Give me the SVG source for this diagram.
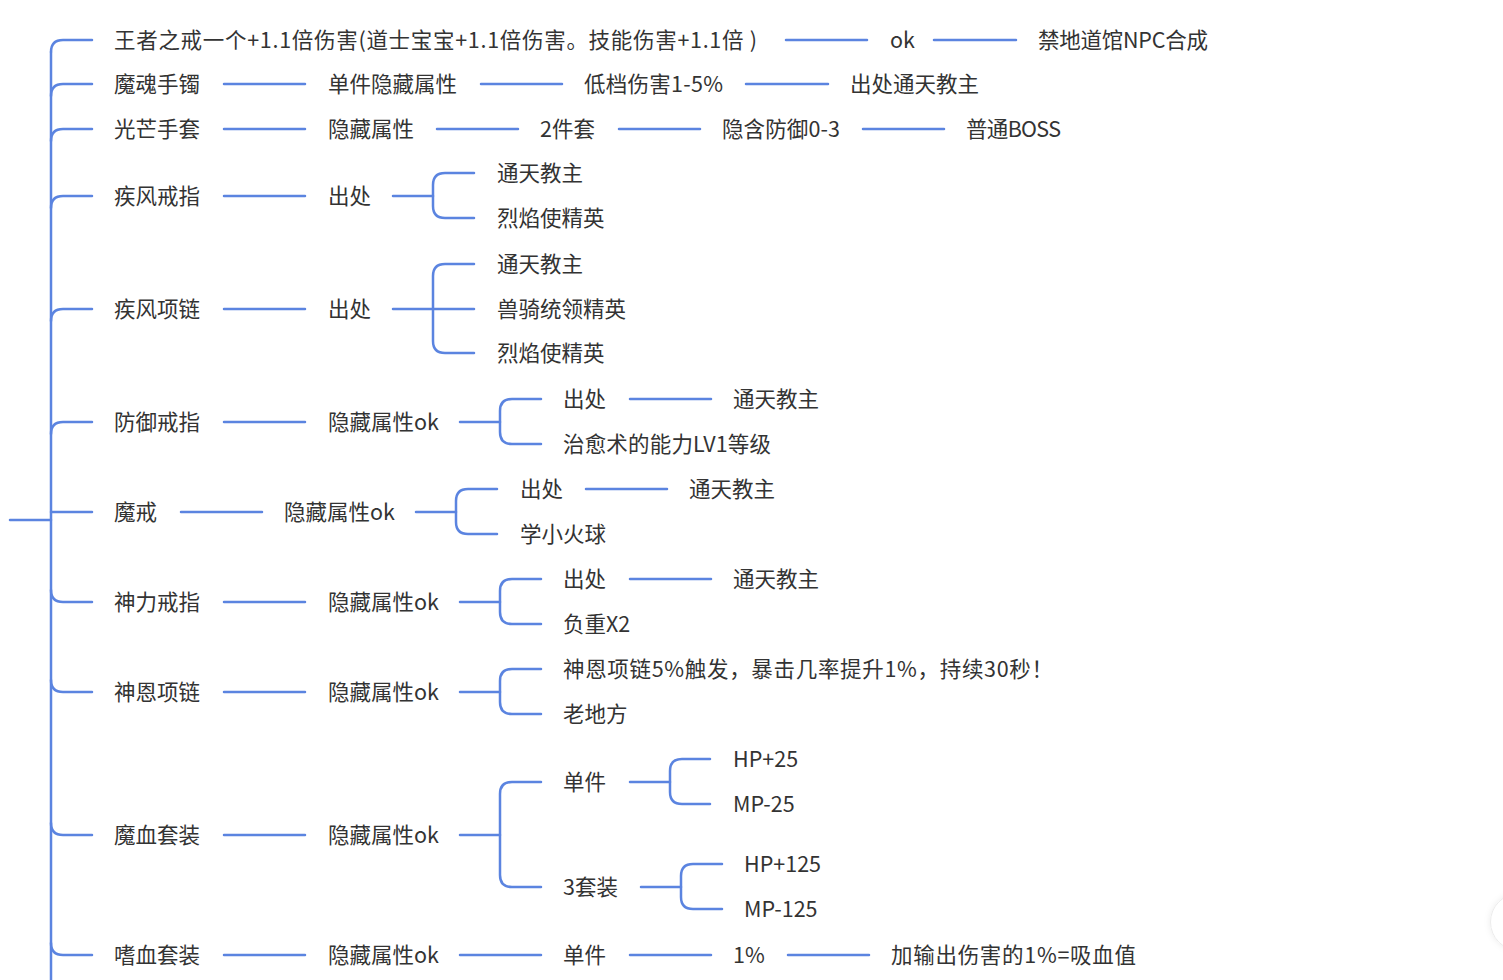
<svg xmlns="http://www.w3.org/2000/svg" width="1503" height="980" viewBox="0 0 1503 980">
<defs>
<style>
.t{font-family:"Noto Sans CJK SC","Microsoft YaHei",sans-serif;font-size:21.5px;fill:#333333}
.c path,.c line{stroke:#5b84e0;stroke-width:2.5;fill:none;stroke-linecap:round}
</style>
<filter id="sh" x="-50%" y="-50%" width="200%" height="200%"><feDropShadow dx="0" dy="0" stdDeviation="3" flood-color="#000" flood-opacity="0.08"/></filter>
</defs>
<rect width="1503" height="980" fill="#ffffff"/>
<g class="c" id="connectors">
<line x1="10" y1="520" x2="51" y2="520"/>
<line x1="51" y1="52" x2="51" y2="980"/>
<path d="M51,52 Q51,40 63,40 L92,40"/>
<path d="M51,96 Q51,84 63,84 L92,84"/>
<path d="M51,141 Q51,129 63,129 L92,129"/>
<path d="M51,208 Q51,196 63,196 L92,196"/>
<path d="M51,321 Q51,309 63,309 L92,309"/>
<path d="M51,434 Q51,422 63,422 L92,422"/>
<path d="M51,512 L92,512"/>
<path d="M51,590 Q51,602 63,602 L92,602"/>
<path d="M51,680 Q51,692 63,692 L92,692"/>
<path d="M51,823 Q51,835 63,835 L92,835"/>
<path d="M51,943 Q51,955 63,955 L92,955"/>
<line x1="786" y1="40" x2="867" y2="40"/>
<line x1="934" y1="40" x2="1016" y2="40"/>
<line x1="224" y1="84" x2="305" y2="84"/>
<line x1="481" y1="84" x2="562" y2="84"/>
<line x1="746" y1="84" x2="828" y2="84"/>
<line x1="224" y1="129" x2="305" y2="129"/>
<line x1="437" y1="129" x2="518" y2="129"/>
<line x1="619" y1="129" x2="700" y2="129"/>
<line x1="863" y1="129" x2="944" y2="129"/>
<line x1="224" y1="196" x2="305" y2="196"/>
<line x1="393" y1="196" x2="433" y2="196"/>
<path d="M474,173 L445,173 Q433,173 433,185 L433,206 Q433,218 445,218 L474,218"/>
<line x1="224" y1="309" x2="305" y2="309"/>
<line x1="393" y1="309" x2="474" y2="309"/>
<path d="M474,264 L445,264 Q433,264 433,276 L433,341 Q433,353 445,353 L474,353"/>
<line x1="224" y1="422" x2="305" y2="422"/>
<line x1="460" y1="422" x2="500" y2="422"/>
<path d="M541,399 L512,399 Q500,399 500,411 L500,432 Q500,444 512,444 L541,444"/>
<line x1="630" y1="399" x2="711" y2="399"/>
<line x1="181" y1="512" x2="262" y2="512"/>
<line x1="416" y1="512" x2="456" y2="512"/>
<path d="M497,489 L468,489 Q456,489 456,501 L456,522 Q456,534 468,534 L497,534"/>
<line x1="586" y1="489" x2="667" y2="489"/>
<line x1="224" y1="602" x2="305" y2="602"/>
<line x1="460" y1="602" x2="500" y2="602"/>
<path d="M541,579 L512,579 Q500,579 500,591 L500,612 Q500,624 512,624 L541,624"/>
<line x1="630" y1="579" x2="711" y2="579"/>
<line x1="224" y1="692" x2="305" y2="692"/>
<line x1="460" y1="692" x2="500" y2="692"/>
<path d="M541,669 L512,669 Q500,669 500,681 L500,702 Q500,714 512,714 L541,714"/>
<line x1="224" y1="835" x2="305" y2="835"/>
<line x1="460" y1="835" x2="500" y2="835"/>
<path d="M541,782 L512,782 Q500,782 500,794 L500,875 Q500,887 512,887 L541,887"/>
<line x1="630" y1="782" x2="670" y2="782"/>
<path d="M710,759 L682,759 Q670,759 670,771 L670,792 Q670,804 682,804 L710,804"/>
<line x1="641" y1="887" x2="681" y2="887"/>
<path d="M722,864 L693,864 Q681,864 681,876 L681,897 Q681,909 693,909 L722,909"/>
<line x1="224" y1="955" x2="305" y2="955"/>
<line x1="460" y1="955" x2="541" y2="955"/>
<line x1="630" y1="955" x2="711" y2="955"/>
<line x1="788" y1="955" x2="869" y2="955"/>
</g>
<g id="n1" class="t"><text x="114" y="47.5" textLength="643" lengthAdjust="spacing">王者之戒一个+1.1倍伤害(道士宝宝+1.1倍伤害。技能伤害+1.1倍 )</text><text x="890" y="47.5">ok</text><text x="1038" y="47.5" textLength="170" lengthAdjust="spacing">禁地道馆NPC合成</text></g>
<g id="n2" class="t"><text x="114" y="91.5">魔魂手镯</text><text x="328" y="91.5">单件隐藏属性</text><text x="584" y="91.5" textLength="139" lengthAdjust="spacing">低档伤害1-5%</text><text x="850" y="91.5">出处通天教主</text></g>
<g id="n3" class="t"><text x="114" y="136.5">光芒手套</text><text x="328" y="136.5">隐藏属性</text><text x="540" y="136.5">2件套</text><text x="722" y="136.5" textLength="118" lengthAdjust="spacing">隐含防御0-3</text><text x="966" y="136.5" textLength="95" lengthAdjust="spacing">普通BOSS</text></g>
<g id="n4" class="t"><text x="114" y="203.5">疾风戒指</text><text x="328" y="203.5">出处</text><text x="497" y="180.5">通天教主</text><text x="497" y="225.5">烈焰使精英</text></g>
<g id="n5" class="t"><text x="114" y="316.5">疾风项链</text><text x="328" y="316.5">出处</text><text x="497" y="271.5">通天教主</text><text x="497" y="316.5">兽骑统领精英</text><text x="497" y="360.5">烈焰使精英</text></g>
<g id="n6" class="t"><text x="114" y="429.5">防御戒指</text><text x="328" y="429.5">隐藏属性ok</text><text x="563" y="406.5">出处</text><text x="733" y="406.5">通天教主</text><text x="563" y="451.5" textLength="208" lengthAdjust="spacing">治愈术的能力LV1等级</text></g>
<g id="n7" class="t"><text x="114" y="519.5">魔戒</text><text x="284" y="519.5">隐藏属性ok</text><text x="520" y="496.5">出处</text><text x="689" y="496.5">通天教主</text><text x="520" y="541.5">学小火球</text></g>
<g id="n8" class="t"><text x="114" y="609.5">神力戒指</text><text x="328" y="609.5">隐藏属性ok</text><text x="563" y="586.5">出处</text><text x="733" y="586.5">通天教主</text><text x="563" y="631.5">负重X2</text></g>
<g id="n9" class="t"><text x="114" y="699.5">神恩项链</text><text x="328" y="699.5">隐藏属性ok</text><text x="563" y="676.5" textLength="490" lengthAdjust="spacing">神恩项链5%触发，暴击几率提升1%，持续30秒！</text><text x="563" y="721.5">老地方</text></g>
<g id="n10" class="t"><text x="114" y="842.5">魔血套装</text><text x="328" y="842.5">隐藏属性ok</text><text x="563" y="789.5">单件</text><text x="733" y="766.5">HP+25</text><text x="733" y="811.5">MP-25</text><text x="563" y="894.5">3套装</text><text x="744" y="871.5">HP+125</text><text x="744" y="916.5">MP-125</text></g>
<g id="n11" class="t"><text x="114" y="962.5">嗜血套装</text><text x="328" y="962.5">隐藏属性ok</text><text x="563" y="962.5">单件</text><text x="733" y="962.5">1%</text><text x="891" y="962.5" textLength="245" lengthAdjust="spacing">加输出伤害的1%=吸血值</text></g>
<g id="button"><circle cx="1519" cy="922" r="28.5" fill="#ffffff" stroke="#ececec" stroke-width="1" filter="url(#sh)"/></g>
</svg>
